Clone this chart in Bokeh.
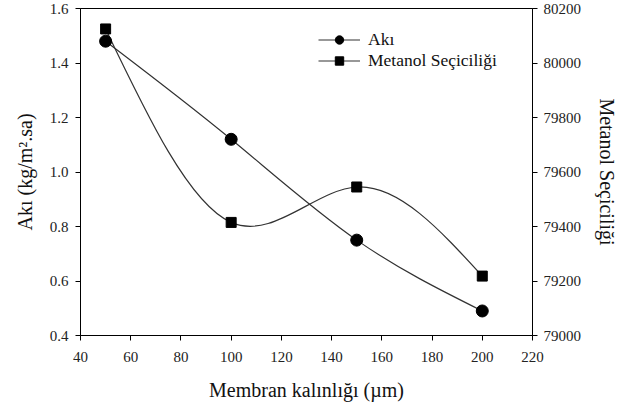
import numpy as np
from bokeh.plotting import figure
from bokeh.models import (Range1d, LinearAxis, FixedTicker, Legend, LegendItem,
                          ColumnDataSource, PrintfTickFormatter)
from bokeh.embed import file_html
from bokeh.resources import INLINE

# ---- data ----
thickness = [50, 100, 150, 200]           # Membran kalınlığı (µm)
flux = [1.48, 1.12, 0.75, 0.49]           # Akı (kg/m².sa)
selectivity = [80125, 79415, 79545, 79218]  # Metanol Seçiciliği

x_ticks = [40, 60, 80, 100, 120, 140, 160, 180, 200, 220]
left_ticks = [0.4, 0.6, 0.8, 1.0, 1.2, 1.4, 1.6]
right_ticks = [79000, 79200, 79400, 79600, 79800, 80000, 80200]

FONT = "Liberation Serif"


def natural_spline_bezier(xs, ys):
    """Natural cubic spline through the data, returned as exact cubic Bezier segments."""
    x = np.asarray(xs, float)
    y = np.asarray(ys, float)
    n = len(x)
    h = np.diff(x)
    A = np.zeros((n, n))
    b = np.zeros(n)
    A[0, 0] = A[-1, -1] = 1.0
    for i in range(1, n - 1):
        A[i, i - 1] = h[i - 1]
        A[i, i] = 2 * (h[i - 1] + h[i])
        A[i, i + 1] = h[i]
        b[i] = 6 * ((y[i + 1] - y[i]) / h[i] - (y[i] - y[i - 1]) / h[i - 1])
    M = np.linalg.solve(A, b)
    d0 = (y[1:] - y[:-1]) / h - h * (2 * M[:-1] + M[1:]) / 6
    d1 = (y[1:] - y[:-1]) / h + h * (M[:-1] + 2 * M[1:]) / 6
    return dict(x0=x[:-1], y0=y[:-1], x1=x[1:], y1=y[1:],
                cx0=x[:-1] + h / 3, cy0=y[:-1] + h * d0 / 3,
                cx1=x[1:] - h / 3, cy1=y[1:] - h * d1 / 3)


p = figure(width=632, height=406, output_backend="svg", toolbar_location=None,
           x_range=Range1d(40, 220), y_range=Range1d(0.4, 1.6),
           min_border_left=80, min_border_right=100, min_border_top=8,
           min_border_bottom=71)
p.extra_y_ranges = {"sel": Range1d(79000, 80200)}
p.xgrid.visible = False
p.ygrid.visible = False
p.outline_line_color = "black"
p.outline_line_width = 1
p.background_fill_color = "white"
p.border_fill_color = "white"

# curves
p.bezier(source=ColumnDataSource(natural_spline_bezier(thickness, flux)),
         x0="x0", y0="y0", x1="x1", y1="y1", cx0="cx0", cy0="cy0", cx1="cx1", cy1="cy1",
         line_color="#333333", line_width=1.2)
p.bezier(source=ColumnDataSource(natural_spline_bezier(thickness, selectivity)),
         x0="x0", y0="y0", x1="x1", y1="y1", cx0="cx0", cy0="cy0", cx1="cx1", cy1="cy1",
         line_color="#333333", line_width=1.2, y_range_name="sel")

s1 = p.scatter(thickness, flux, marker="circle", size=12, fill_color="black", line_color="black")
s2 = p.scatter(thickness, selectivity, marker="square", size=10, fill_color="black",
               line_color="black", y_range_name="sel")

# legend proxies (single point lines draw nothing in the plot)
l1 = p.line([thickness[0]], [flux[0]], line_color="#333333", line_width=1.2)
l2 = p.line([thickness[0]], [selectivity[0]], line_color="#333333", line_width=1.2,
            y_range_name="sel")

legend = Legend(items=[LegendItem(label="Akı", renderers=[l1, s1]),
                       LegendItem(label="Metanol Seçiciliği", renderers=[l2, s2])],
                location=(238, 264), glyph_width=42, glyph_height=21,
                label_text_font=FONT, label_text_font_size="17.5px",
                label_text_color="#111111", spacing=0, padding=4,
                border_line_color=None, background_fill_alpha=0, label_standoff=8)
p.add_layout(legend)

# axes
def style_axis(ax):
    ax.axis_line_color = "black"
    ax.axis_line_width = 1
    ax.major_tick_line_color = "black"
    ax.major_tick_out = 5
    ax.major_tick_in = 0
    ax.minor_tick_line_color = None
    ax.major_label_text_font = FONT
    ax.major_label_text_font_size = "15px"
    ax.major_label_text_color = "#222222"
    ax.axis_label_text_font = FONT
    ax.axis_label_text_font_size = "20px"
    ax.axis_label_text_font_style = "normal"
    ax.axis_label_text_color = "#111111"

p.xaxis.ticker = FixedTicker(ticks=x_ticks)
p.xaxis.axis_label = "Membran kalınlığı (µm)"
p.xaxis.major_label_standoff = 11
p.xaxis.axis_label_standoff = 14
p.yaxis.ticker = FixedTicker(ticks=left_ticks)
p.yaxis.formatter = PrintfTickFormatter(format="%.1f")
p.yaxis.axis_label = "Akı (kg/m².sa)"
p.yaxis.major_label_standoff = 7
p.yaxis.axis_label_standoff = 11
style_axis(p.xaxis[0])
style_axis(p.yaxis[0])

ry = LinearAxis(y_range_name="sel", ticker=FixedTicker(ticks=right_ticks),
                axis_label="Metanol Seçiciliği")
ry.major_label_standoff = 6
ry.axis_label_standoff = 12
style_axis(ry)
p.add_layout(ry, "right")

open("out.html", "w").write(file_html(p, INLINE))
